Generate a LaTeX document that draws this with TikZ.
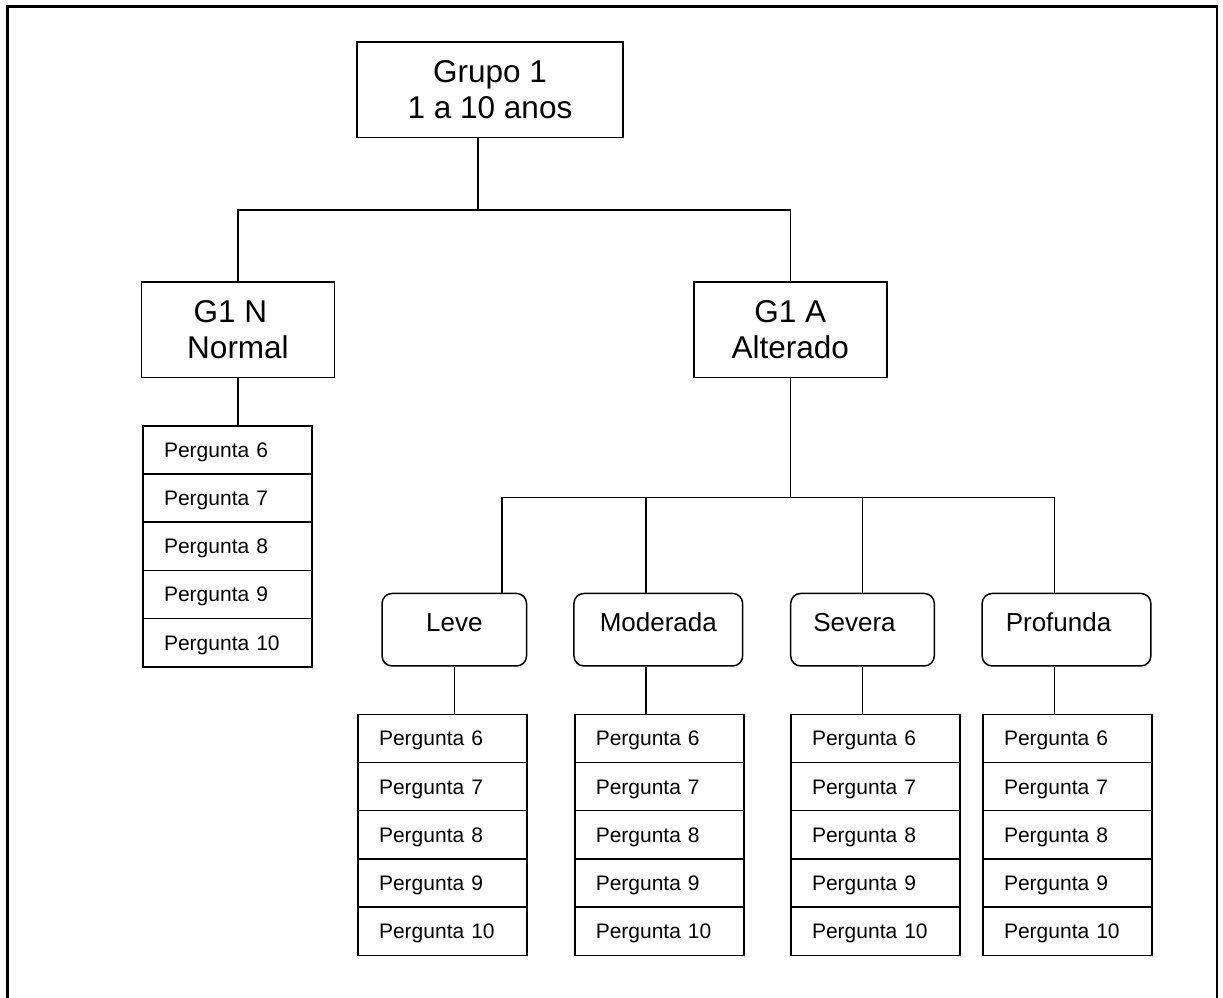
\documentclass[tikz,border=0pt]{standalone}
\usepackage{fontspec}
\setmainfont{Liberation Sans}
\begin{document}
\begin{tikzpicture}[x=1pt,y=-1pt]
\tikzstyle{group} = [draw=black, line width=1.5pt, align=center, inner sep=0pt, minimum height=95.5pt, font=\fontsize{31.5}{35.6}\selectfont]
\tikzstyle{degree} = [draw=black, line width=1.5pt, rounded corners=10pt, inner sep=0pt, minimum height=72.5pt, text height=19pt, text depth=16pt, font=\fontsize{26}{30}\selectfont]
\tikzstyle{item} = [draw=black, line width=1.5pt, anchor=north west, inner ysep=0pt, inner xsep=21pt, text width=127pt, minimum height=48.2pt, text height=15pt, text depth=0pt, font=\fontsize{21}{24}\selectfont]
\tikzstyle{edge} = [draw=black, line width=1.2pt]

\useasboundingbox (0,0) rectangle (1223,997);
\draw[line width=2.3pt] (7.5,6.5) rectangle (1217,1012);

\node[group, minimum width=266pt] (g1) at (490,89.5) {Grupo 1\\1 a 10 anos};
\node[group, minimum width=193pt] (g1n) at (238,329.7) {G1 N\hspace*{15pt}\\Normal};
\node[group, minimum width=193pt] (g1a) at (790.3,329.7) {G1 A\\Alterado};

\node[degree, minimum width=144.5pt] (leve) at (454.3,629.7) {Leve};
\node[degree, minimum width=168.7pt] (moderada) at (658.3,629.7) {Moderada};
\node[degree, minimum width=143.6pt] (severa) at (862.5,629.7) {Severa\hspace*{16pt}};
\node[degree, minimum width=168.7pt] (profunda) at (1066.5,629.7) {Profunda\hspace*{16pt}};

\foreach \name/\x/\y in {g1n/142.3/425, leve/357.3/713.5, moderada/574/713.5, severa/790.3/713.5, profunda/982.3/713.5}
  \foreach \n [count=\i from 0] in {6,...,10}
    \node[item] (\name-\n) at (\x,\y+48.2*\i) {Pergunta \n};

\coordinate (b1) at (478,210);
\coordinate (b2) at (502,497.7);
\coordinate (b3) at (646,497.7);
\coordinate (b4) at (1054.3,497.7);

\draw[edge] (g1.south -| b1) -- (b1);
\draw[edge] (g1n.north) |- (b1) -| (g1a.north);
\draw[edge] (g1n.south) -- (g1n.south |- g1n-6.north);
\draw[edge] (g1a.south) -- (g1a.south |- b2);
\draw[edge] (b2 |- leve.north) -- (b2) -- (b4) -- (b4 |- profunda.north);
\draw[edge] (b3) -- (b3 |- moderada.north);
\draw[edge] (severa.north |- b2) -- (severa.north);
\draw[edge] (leve.south) -- (leve.south |- leve-6.north);
\draw[edge] (b3 |- moderada.south) -- (b3 |- moderada-6.north);
\draw[edge] (severa.south) -- (severa.south |- severa-6.north);
\draw[edge] (b4 |- profunda.south) -- (b4 |- profunda-6.north);
\end{tikzpicture}
\end{document}
